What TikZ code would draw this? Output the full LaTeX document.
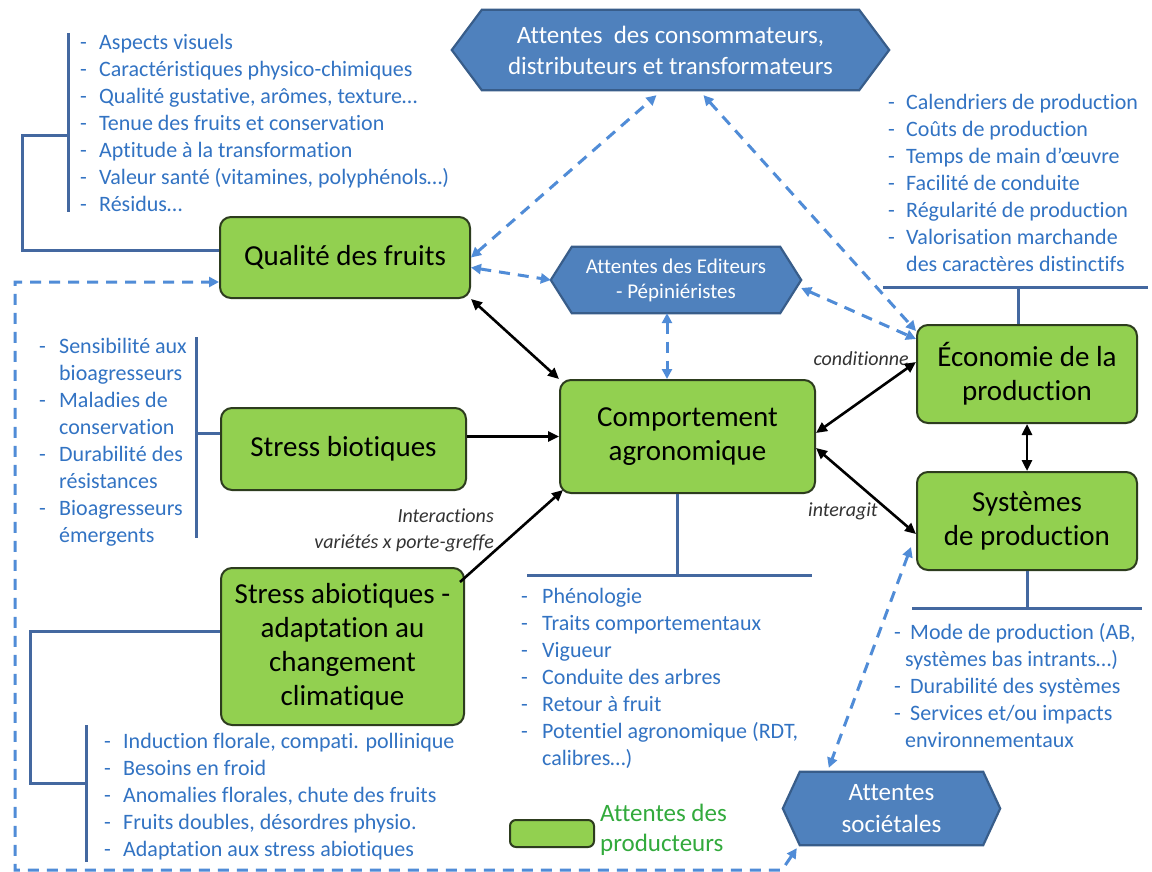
\documentclass[tikz,border=0pt]{standalone}
\usepackage{fontspec}
\setmainfont{Carlito}[Ligatures=NoCommon]
\usetikzlibrary{arrows.meta,backgrounds,calc}
\definecolor{boxgreen}{RGB}{146,208,80}
\definecolor{boxline}{RGB}{45,60,30}
\definecolor{hexfill}{RGB}{79,129,189}
\definecolor{hexline}{RGB}{56,93,138}
\definecolor{listblue}{RGB}{50,115,195}
\definecolor{brkblue}{RGB}{68,104,160}
\definecolor{dashblue}{RGB}{80,140,215}
\definecolor{legreen}{RGB}{50,170,60}
\newcommand{\lsit}[2][19pt]{\strut\makebox[#1][l]{-}#2}
\newcommand{\lsco}[2][19pt]{\strut\hspace*{#1}#2}
\newcommand{\drawhex}[2]{\filldraw[fill=hexfill, draw=hexline, line width=2.2pt] (#1.west) -- ([xshift=#2]#1.north west) -- ([xshift=-#2]#1.north east) -- (#1.east) -- ([xshift=-#2]#1.south east) -- ([xshift=#2]#1.south west) -- cycle;}
\begin{document}
\begin{tikzpicture}[x=1pt,y=-1pt,
 gbox/.style={draw=boxline, fill=boxgreen, line width=2pt, rounded corners=11pt, align=center, inner sep=0pt, font=\fontsize{29}{34}\selectfont},
 hexnode/.style={inner sep=0pt, align=center, text=white},
 lst/.style={anchor=north west, inner sep=0pt, align=left, text=listblue, font=\fontsize{22}{27}\selectfont},
 brk/.style={draw=brkblue, line width=3pt},
 dsh/.style={draw=dashblue, line width=3pt, dash pattern=on 11pt off 8pt, {Triangle[length=10pt,width=10pt]}-{Triangle[length=10pt,width=10pt]}},
 blk/.style={draw=black, line width=2.6pt},
 blkone/.style={blk, -{Triangle[length=11pt,width=10pt]}},
 blktwo/.style={blk, {Triangle[length=11pt,width=10pt]}-{Triangle[length=11pt,width=10pt]}},
 lbl/.style={font=\fontsize{20}{26}\selectfont\itshape, text=black!80, inner sep=0pt}
]
\useasboundingbox (0,0) rectangle (1152,872);

% green boxes
\node[gbox, minimum width=250pt, minimum height=81pt] (qual) at (345,257.5) {Qualité des fruits};
\node[gbox, minimum width=245pt, minimum height=82pt] (sb) at (343.5,449) {Stress biotiques};
\node[gbox, minimum width=243pt, minimum height=157pt] (sa) at (342.5,646.5) {Stress abiotiques -\\adaptation au\\changement\\climatique};
\node[gbox, minimum width=255pt, minimum height=113pt] (comp) at (687.5,436.5) {Comportement\\agronomique};
\node[gbox, minimum width=220pt, minimum height=98pt] (eco) at (1027,374) {Économie de la\\production};
\node[gbox, minimum width=220pt, minimum height=98pt] (sys) at (1027,521) {Systèmes\\de production};
\node[gbox, minimum width=84pt, minimum height=27pt, rounded corners=6pt] (leg) at (552,833.5) {};
\node[anchor=west, align=left, text=legreen, font=\fontsize{25}{30}\selectfont, inner sep=0pt] (legt) at (600,830) {Attentes des\\producteurs};

% hexagon nodes
\node[hexnode, minimum width=437pt, minimum height=80pt, font=\fontsize{25}{31}\selectfont] (cons) at (670.5,50) {Attentes\ \ des consommateurs,\\distributeurs et transformateurs};
\node[hexnode, minimum width=250pt, minimum height=66pt, font=\fontsize{21}{25}\selectfont] (edit) at (676,280) {Attentes des Editeurs\\- Pépiniéristes};
\node[hexnode, minimum width=217pt, minimum height=73pt, font=\fontsize{25}{32}\selectfont] (socie) at (891.5,808.5) {Attentes\\sociétales};

\begin{scope}[on background layer]
\fill[white] (0,0) rectangle (1152,872);
\drawhex{cons}{30pt}
\drawhex{edit}{21pt}
\drawhex{socie}{17pt}
\end{scope}

% lists
\node[lst] (lstq) at (80,30) {\lsit{Aspects visuels}\\\lsit{Caractéristiques physico-chimiques}\\\lsit{Qualité gustative, arômes, texture…}\\\lsit{Tenue des fruits et conservation}\\\lsit{Aptitude à la transformation}\\\lsit{Valeur santé (vitamines, polyphénols…)}\\\lsit{Résidus…}};
\node[lst] (lstb) at (39,334) {\lsit[20pt]{Sensibilité aux}\\\lsco[20pt]{bioagresseurs}\\\lsit[20pt]{Maladies de}\\\lsco[20pt]{conservation}\\\lsit[20pt]{Durabilité des}\\\lsco[20pt]{résistances}\\\lsit[20pt]{Bioagresseurs}\\\lsco[20pt]{émergents}};
\node[lst] (lstr) at (888,90) {\lsit[18pt]{Calendriers de production}\\\lsit[18pt]{Coûts de production}\\\lsit[18pt]{Temps de main d’œuvre}\\\lsit[18pt]{Facilité de conduite}\\\lsit[18pt]{Régularité de production}\\\lsit[18pt]{Valorisation marchande}\\\lsco[18pt]{des caractères distinctifs}};
\node[lst] (lstc) at (521,584) {\lsit[21pt]{Phénologie}\\\lsit[21pt]{Traits comportementaux}\\\lsit[21pt]{Vigueur}\\\lsit[21pt]{Conduite des arbres}\\\lsit[21pt]{Retour à fruit}\\\lsit[21pt]{Potentiel agronomique (RDT,}\\\lsco[21pt]{calibres…)}};
\node[lst] (lsts) at (894,620) {\lsit[16pt]{Mode de production (AB,}\\\lsco[11pt]{systèmes bas intrants…)}\\\lsit[16pt]{Durabilité des systèmes}\\\lsit[16pt]{Services et/ou impacts}\\\lsco[11pt]{environnementaux}};
\node[lst] (lsta) at (104,729) {\lsit{Induction florale, compati. pollinique}\\\lsit{Besoins en froid}\\\lsit{Anomalies florales, chute des fruits}\\\lsit{Fruits doubles, désordres physio.}\\\lsit{Adaptation aux stress abiotiques}};

% labels
\node[lbl, anchor=east, align=right] (linter) at (494,530) {Interactions\\variétés x porte-greffe};
\node[lbl, anchor=east] (lcond) at (909,359) {conditionne};
\node[lbl, anchor=west] (linteragit) at (808,511) {interagit};

% brackets
\draw[brk] (68,33) -- (68,212);
\draw[brk] (68,136) -- (22,136) -- (22,250) -- (qual.west |- 0,250);
\draw[brk] (196,337) -- (196,538);
\draw[brk] (196,433) -- (sb.west |- 0,433);
\draw[brk] (sa.west |- 0,631) -- (30,631) -- (30,783) -- (86,783);
\draw[brk] (86,725) -- (86,862);
\draw[brk] (comp.south -| 677,0) -- (677,575);
\draw[brk] (527,575) -- (812,575);
\draw[brk] (883,287) -- (1148,287);
\draw[brk] (1018,287) -- (eco.north -| 1018,0);
\draw[brk] (sys.south) -- (1027,608);
\draw[brk] (912,608) -- (1142,608);

% dashed arrows
\coordinate (ec) at ([xshift=-9pt]edit.south);
\draw[dsh] (qual.east) -- ([xshift=-14pt,yshift=-5pt]cons.south);
\draw[dsh] ([yshift=-10pt]qual.east) -- (edit.west);
\draw[dsh] (ec) -- (ec |- comp.north);
\draw[dsh] ([xshift=33pt,yshift=-5pt]cons.south) -- ([yshift=-7pt]eco.north west);
\draw[dsh] ([yshift=-8pt]edit.east) -- ([yshift=-15pt]eco.north west);
\draw[dsh] ([xshift=-5pt,yshift=-26pt]sys.west) -- ([xshift=46pt,yshift=4pt]socie.north west);
\draw[dsh] ([xshift=14pt,yshift=-3pt]socie.south west) -- (782,870) -- (15,870) -- (15,282) -- (qual.west |- 0,282);

% black arrows
\draw[blktwo] (qual.south east) -- (comp.north west);
\draw[blkone] (sb.east |- comp.west) -- (comp.west);
\draw[blkone] ([xshift=-5pt,yshift=-15pt]sa.north east) -- ([xshift=4pt,yshift=4pt]comp.south west);
\draw[blktwo] ([yshift=3.5pt]comp.east) -- ([yshift=12pt]eco.west);
\draw[blktwo] ([yshift=-11.5pt]comp.east) -- ([yshift=-13pt]sys.west);
\draw[blktwo] (eco.south) -- (sys.north);
\end{tikzpicture}
\end{document}
